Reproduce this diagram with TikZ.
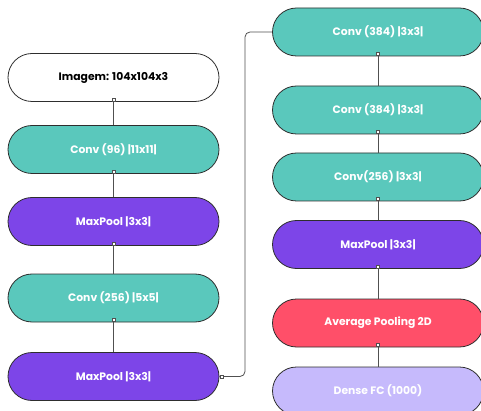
\documentclass[tikz,border=0pt]{standalone}
\usepackage{fontspec}
\setmainfont{Poppins}
\definecolor{convc}{HTML}{5AC8BC}
\definecolor{poolc}{HTML}{7D45E8}
\definecolor{avgc}{HTML}{FF4F69}
\definecolor{densec}{HTML}{C6BAFC}
\definecolor{edgec}{HTML}{2E2E2E}
\definecolor{linkc}{HTML}{505050}
\tikzset{
  layer/.style={draw=edgec, line width=0.8pt, rounded corners=24pt,
    minimum width=211pt, minimum height=48pt, inner sep=0pt,
    font=\fontsize{10.8}{12}\selectfont\bfseries, text=white},
  conv/.style={layer, fill=convc},
  pool/.style={layer, fill=poolc},
  avg/.style={layer, fill=avgc},
  dense/.style={layer, fill=densec},
  input/.style={layer, fill=white, text=black},
  link/.style={draw=linkc, line width=0.8pt},
  tap/.style={draw=linkc, fill=white, line width=0.6pt, minimum size=3pt, inner sep=0pt}
}
\begin{document}
\begin{tikzpicture}[x=1pt, y=-1pt]
\useasboundingbox (0,0) rectangle (481,411);
\begin{scope}
\clip (0,0) rectangle (481,411);
% left column
\node[input] (img) at (113.5,77.5) {Imagem: 104x104x3};
\node[conv]  (c1)  at (113.5,149.5) {Conv (96) |11x11|};
\node[pool]  (p1)  at (113.5,221.5) {MaxPool |3x3|};
\node[conv]  (c2)  at (113.5,298) {Conv (256) |5x5|};
\node[pool]  (p2)  at (113.5,376.5) {MaxPool |3x3|};
% right column
\node[conv]  (c3)  at (378,32) {Conv (384) |3x3|};
\node[conv]  (c4)  at (378,110) {Conv (384) |3x3|};
\node[conv]  (c5)  at (378,177) {Conv(256) |3x3|};
\node[pool]  (p3)  at (378,244.5) {MaxPool |3x3|};
\node[avg]   (av)  at (378,323) {Average Pooling 2D};
\node[dense] (fc)  at (378,391) {Dense FC (1000)};
% vertical links
\foreach \a/\b in {img/c1, c1/p1, p1/c2, c2/p2, c3/c4, c4/c5, c5/p3, p3/av, av/fc}{
  \draw[link] (\a.south) -- (\b.north);
  \node[tap] at ([yshift=2.5pt]\a.south) {};
}
% link between the columns
\coordinate (turn) at (245,0);
\draw[link, rounded corners=5pt] (p2.east) -- (p2.east -| turn) -- (c3.west -| turn) -- (c3.west);
\node[tap] at ([xshift=2.5pt]p2.east) {};
\end{scope}
\end{tikzpicture}
\end{document}
